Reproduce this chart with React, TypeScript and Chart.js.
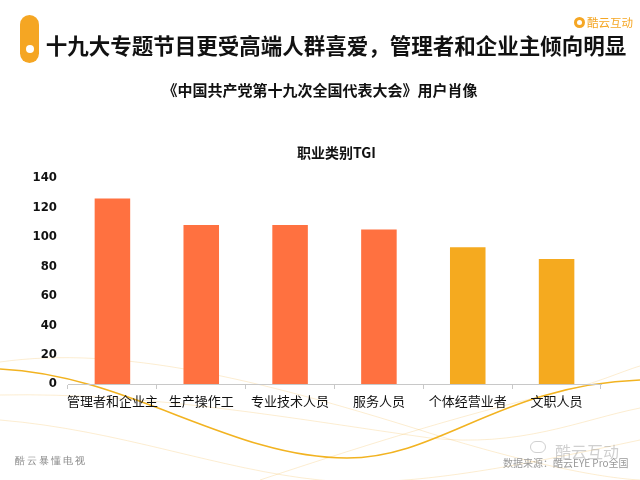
import React, { useEffect, useRef } from "react";
import { Chart, registerables } from "chart.js";

Chart.register(...registerables);

const categories = ["管理者和企业主", "生产操作工", "专业技术人员", "服务人员", "个体经营业者", "文职人员"];
const tgiValues = [126, 108, 108, 105, 93, 85];
const barColors = ["#FF7140", "#FF7140", "#FF7140", "#FF7140", "#F5AA1F", "#F5AA1F"];
const yTicks = [0, 20, 40, 60, 80, 100, 120, 140];

const decoPlugin = {
  id: "deco",
  beforeDraw(chart: any) {
    const ctx = chart.ctx;
    ctx.save();
    ctx.fillStyle = "#ffffff";
    ctx.fillRect(0, 0, chart.width, chart.height);
    ctx.lineWidth = 1;
    ctx.strokeStyle = "rgba(245,190,90,0.28)";
    const faint = [
      [0, 362, 120, 345, 260, 380, 420, 430, 520, 462, 600, 478, 640, 480],
      [0, 395, 150, 392, 300, 420, 430, 438, 520, 448, 580, 420, 640, 408],
      [260, 480, 380, 440, 480, 410, 560, 392, 600, 382, 620, 372, 640, 366],
      [0, 420, 120, 430, 220, 470, 320, 480, 400, 488, 500, 470, 640, 440],
    ];
    for (const c of faint) {
      ctx.beginPath();
      ctx.moveTo(c[0], c[1]);
      ctx.bezierCurveTo(c[2], c[3], c[4], c[5], c[6], c[7]);
      ctx.bezierCurveTo(c[8], c[9], c[10], c[11], c[12], c[13]);
      ctx.stroke();
    }
    ctx.lineWidth = 1.6;
    ctx.strokeStyle = "#F2B321";
    ctx.beginPath();
    ctx.moveTo(0, 369);
    ctx.bezierCurveTo(130, 375, 230, 458, 347, 458);
    ctx.bezierCurveTo(440, 458, 500, 385, 640, 380);
    ctx.stroke();
    ctx.restore();
  },
};

export default function App() {
  const ref = useRef<HTMLCanvasElement>(null);
  useEffect(() => {
    if (!ref.current) return;
    const chart = new Chart(ref.current, {
      type: "bar",
      data: {
        labels: categories,
        datasets: [
          {
            data: tgiValues,
            backgroundColor: barColors,
            categoryPercentage: 1,
            barPercentage: 0.4,
          },
        ],
      },
      options: {
        animation: false,
        responsive: false,
        layout: { padding: { top: 178, right: 39, left: 0, bottom: 0 } },
        plugins: { legend: { display: false }, tooltip: { enabled: false }, title: { display: false } },
        scales: {
          x: {
            grid: { display: true, drawOnChartArea: false, drawTicks: true, tickLength: 5, color: "#c8c8c8" },
            border: { display: true, color: "#c8c8c8" },
            ticks: {
              color: "#111",
              font: { family: "'Noto Sans CJK SC', sans-serif", size: 13 },
              padding: 4,
              maxRotation: 0,
              autoSkip: false,
            },
            afterFit(scale: any) {
              scale.height = 96;
            },
          },
          y: {
            min: 0,
            max: 140,
            afterBuildTicks(scale: any) {
              scale.ticks = yTicks.map((v) => ({ value: v }));
            },
            grid: { display: false, drawTicks: false },
            border: { display: false },
            ticks: {
              color: "#111",
              padding: 11,
              font: { family: "'DejaVu Sans Condensed', 'Liberation Sans Narrow', sans-serif", size: 13, weight: "bold" },
            },
            afterFit(scale: any) {
              scale.width = 68;
            },
          },
        },
      },
      plugins: [decoPlugin],
    } as any);
    return () => chart.destroy();
  }, []);

  const cjk = "'Noto Sans CJK SC', sans-serif";
  return (
    <div style={{ position: "fixed", left: 0, top: 0, width: 640, height: 480, overflow: "hidden", background: "#fff" }}>
      <canvas ref={ref} width={640} height={480} style={{ position: "absolute", left: 0, top: 0, width: 640, height: 480 }} />
      <div style={{ position: "absolute", left: 20, top: 15, width: 19, height: 48, borderRadius: 10, background: "#F5A623" }} />
      <div style={{ position: "absolute", left: 26, top: 45, width: 8, height: 8, borderRadius: 4, background: "#fff" }} />
      <div style={{ position: "absolute", left: 0, width: 640, top: 30, textAlign: "center", paddingLeft: 32, boxSizing: "border-box", fontFamily: cjk, fontWeight: 700, fontSize: 21.5, lineHeight: "30px", color: "#111", whiteSpace: "nowrap" }}>
        十九大专题节目更受高端人群喜爱，管理者和企业主倾向明显
      </div>
      <div style={{ position: "absolute", left: 574, top: 17, width: 11, height: 11, borderRadius: 6, background: "#F5A623" }} />
      <div style={{ position: "absolute", left: 577, top: 20, width: 5, height: 5, borderRadius: 3, background: "#fff" }} />
      <div style={{ position: "absolute", left: 587, top: 14, fontFamily: cjk, fontSize: 11.5, lineHeight: "17px", color: "#F5A623", whiteSpace: "nowrap" }}>酷云互动</div>
      <div style={{ position: "absolute", left: 0, width: 640, top: 79, textAlign: "center", fontFamily: cjk, fontWeight: 700, fontSize: 15, lineHeight: "22px", color: "#111", whiteSpace: "nowrap" }}>
        《中国共产党第十九次全国代表大会》用户肖像
      </div>
      <div style={{ position: "absolute", left: 297, top: 142, fontFamily: cjk, fontWeight: 700, fontSize: 14, lineHeight: "20px", color: "#111", whiteSpace: "nowrap" }}>
        职业类别TGI
      </div>
      <div style={{ position: "absolute", left: 15, top: 454, fontFamily: "serif", fontSize: 10, lineHeight: "14px", color: "#888", letterSpacing: 2, whiteSpace: "nowrap" }}>
        酷云暴懂电视
      </div>
      <div style={{ position: "absolute", left: 530, top: 441, width: 14, height: 10, borderRadius: 7, border: "1px solid rgba(150,150,150,0.45)" }} />
      <div style={{ position: "absolute", left: 555, top: 440, fontFamily: cjk, fontSize: 16, lineHeight: "22px", color: "rgba(150,150,150,0.45)", whiteSpace: "nowrap" }}>
        酷云互动
      </div>
      <div style={{ position: "absolute", left: 503, top: 456, fontFamily: cjk, fontSize: 10, lineHeight: "14px", color: "#999", whiteSpace: "nowrap" }}>
        数据来源：酷云EYE Pro全国
      </div>
    </div>
  );
}
